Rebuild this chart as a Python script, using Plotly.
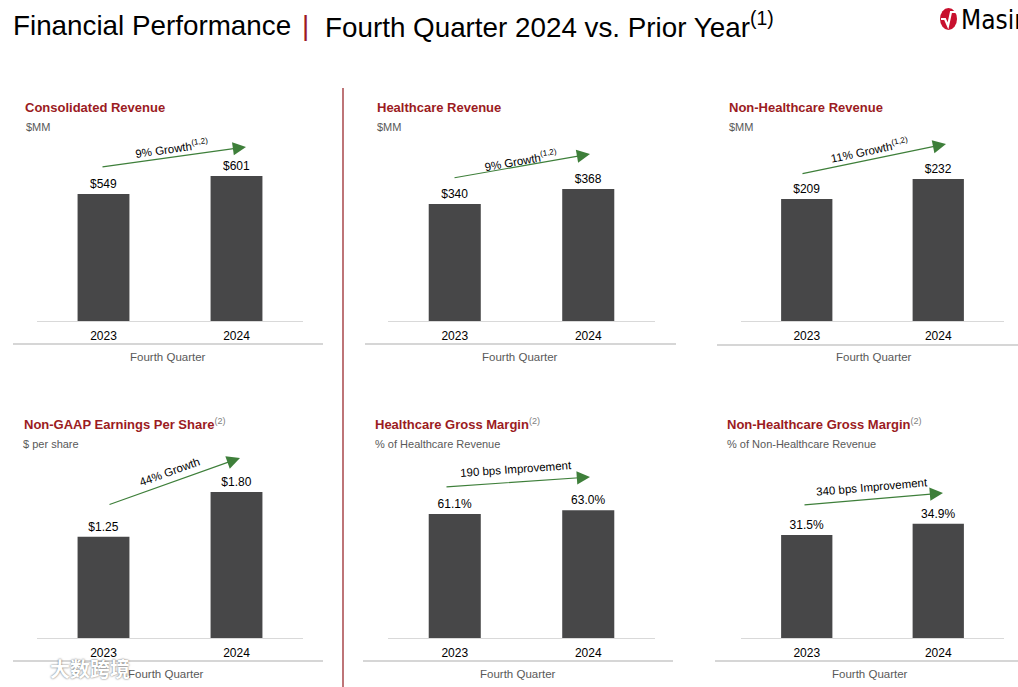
import plotly.graph_objects as go

# ---------------- data ----------------
categories = ["2023", "2024"]
consolidated_revenue = [549, 601]
healthcare_revenue = [340, 368]
non_healthcare_revenue = [209, 232]
non_gaap_eps = [1.25, 1.80]
healthcare_gross_margin = [61.1, 63.0]
non_healthcare_gross_margin = [31.5, 34.9]

panel_titles = [
    "Consolidated Revenue",
    "Healthcare Revenue",
    "Non-Healthcare Revenue",
    "Non-GAAP Earnings Per Share",
    "Healthcare Gross Margin",
    "Non-Healthcare Gross Margin",
]
panel_title_notes = ["", "", "", "(2)", "(2)", "(2)"]
panel_units = ["$MM", "$MM", "$MM", "$ per share",
               "% of Healthcare Revenue", "% of Non-Healthcare Revenue"]
growth_texts = ["9% Growth", "9% Growth", "11% Growth", "44% Growth",
                "190 bps Improvement", "340 bps Improvement"]
growth_notes = ["(1,2)", "(1,2)", "(1,2)", "", "", ""]
period_label = "Fourth Quarter"
main_title_left = "Financial Performance"
main_title_right = "Fourth Quarter 2024 vs. Prior Year"
main_title_note = "(1)"

series = [consolidated_revenue, healthcare_revenue, non_healthcare_revenue,
          non_gaap_eps, healthcare_gross_margin, non_healthcare_gross_margin]
formats = ["${:,.0f}", "${:,.0f}", "${:,.0f}", "${:.2f}", "{:.1f}%", "{:.1f}%"]

# ---------------- layout config ----------------
W, H = 1018, 687
FONT = "Liberation Sans, Arial, sans-serif"
RED = "#9B1B22"
BAR = "#474748"
GREEN = "#3E7F3A"
GRAY = "#595959"


def fx(p):
    return p / W


def fy(p):
    return 1 - p / H


col_px = [(37, 303), (388, 655), (741, 1004)]
row_px = [(140, 321), (460, 638)]
y_ranges = [[182.1, 705.1], [121.6, 459.5], [68.7, 276.8],
            [0, 2.195], [0, 87.7], [0, 54.4]]

title_pos = [(23, 107), (375, 107), (727, 107), (22, 424), (373, 424), (725, 424)]
unit_pos = [(24, 127), (375, 127), (727, 127), (21, 444), (373, 444), (725, 444)]
period_pos = [(168, 357), (520, 357), (874, 357), (166, 674), (518, 674), (870, 674)]
sep_lines = [(13, 323, 344), (365, 676, 344), (717, 1018, 345),
             (13, 323, 661), (363, 673, 661), (715, 1018, 661)]
arrows = [((101, 167), (246, 147)), ((453, 178), (590, 154)),
          ((801, 174), (946, 144)), ((108, 505), (240, 458)),
          ((445, 487), (590, 477)), ((803, 505), (943, 493))]
growth_text_pos = [(172, 148, -8), (521, 160, -10), (869, 150, -12),
                   (169, 472, -20), (516, 469, -4), (872, 487, -5)]

fig = go.Figure()
layout = dict(
    width=W, height=H,
    margin=dict(l=0, r=0, t=0, b=0),
    paper_bgcolor="white", plot_bgcolor="white",
    showlegend=False,
    font=dict(family=FONT, color="#000"),
)

annotations = []
shapes = []

for i, vals in enumerate(series):
    r, c = divmod(i, 3)
    n = "" if i == 0 else str(i + 1)
    fig.add_trace(go.Bar(
        x=categories, y=vals,
        xaxis="x" + n, yaxis="y" + n,
        marker=dict(color=BAR, line=dict(width=0)),
        width=0.39,
        text=[formats[i].format(v) for v in vals],
        textposition="outside",
        textfont=dict(family=FONT, size=12, color="#000"),
        hoverinfo="skip",
    ))
    x0, x1 = col_px[c]
    t, b = row_px[r]
    layout["xaxis" + n] = dict(
        domain=[fx(x0), fx(x1)], anchor="y" + n, type="category",
        range=[-0.5, 1.5], showline=True, linecolor="#D9D9D9", linewidth=1.3,
        ticks="", showgrid=False, zeroline=False, fixedrange=True,
        ticklabelstandoff=3,
        tickfont=dict(family=FONT, size=12, color="#000"),
    )
    layout["yaxis" + n] = dict(
        domain=[fy(b), fy(t)], anchor="x" + n, range=y_ranges[i],
        visible=False, fixedrange=True,
    )

    # panel title
    note = ""
    if panel_title_notes[i]:
        note = "<sup><span style='font-weight:normal;color:#7F7F7F'>%s</span></sup>" % panel_title_notes[i]
    tx, ty = title_pos[i]
    annotations.append(dict(
        xref="paper", yref="paper", x=fx(tx), y=fy(ty), xanchor="left", yanchor="middle",
        text="<b>%s</b>%s" % (panel_titles[i], note), showarrow=False,
        font=dict(family=FONT, size=13, color=RED),
    ))
    ux, uy = unit_pos[i]
    annotations.append(dict(
        xref="paper", yref="paper", x=fx(ux), y=fy(uy), xanchor="left", yanchor="middle",
        text=panel_units[i], showarrow=False,
        font=dict(family=FONT, size=11, color=GRAY),
    ))
    px_, py_ = period_pos[i]
    annotations.append(dict(
        xref="paper", yref="paper", x=fx(px_), y=fy(py_), xanchor="center", yanchor="middle",
        text=period_label, showarrow=False,
        font=dict(family=FONT, size=11.5, color=GRAY),
    ))
    lx0, lx1, ly = sep_lines[i]
    shapes.append(dict(type="line", xref="paper", yref="paper",
                       x0=fx(lx0), x1=fx(lx1), y0=fy(ly), y1=fy(ly),
                       line=dict(color="#C8C8C8", width=1.3)))
    (ax_, ay_), (hx, hy) = arrows[i]
    annotations.append(dict(
        xref="paper", yref="paper", x=fx(hx), y=fy(hy),
        axref="pixel", ayref="pixel", ax=ax_ - hx, ay=ay_ - hy,
        text="", showarrow=True, arrowhead=2, arrowsize=2.2, arrowwidth=1.2,
        arrowcolor=GREEN, standoff=0, startstandoff=0,
    ))
    gx, gy, ga = growth_text_pos[i]
    gnote = "<sup>%s</sup>" % growth_notes[i] if growth_notes[i] else ""
    annotations.append(dict(
        xref="paper", yref="paper", x=fx(gx), y=fy(gy), xanchor="center", yanchor="middle",
        text=growth_texts[i] + gnote, showarrow=False, textangle=ga,
        font=dict(family=FONT, size=11.5, color="#000"),
    ))

# main title
annotations += [
    dict(xref="paper", yref="paper", x=fx(11), y=fy(25), xanchor="left", yanchor="middle",
         text=main_title_left, showarrow=False, font=dict(family=FONT, size=27.8, color="#000")),
    dict(xref="paper", yref="paper", x=fx(305), y=fy(25), xanchor="center", yanchor="middle",
         text="|", showarrow=False, font=dict(family=FONT, size=27.8, color=RED)),
    dict(xref="paper", yref="paper", x=fx(323), y=fy(25), xanchor="left", yanchor="middle",
         text=main_title_right + "<sup>" + main_title_note + "</sup>", showarrow=False,
         font=dict(family=FONT, size=27.8, color="#000")),
    # logo text
    dict(xref="paper", yref="paper", x=fx(959), y=fy(20), xanchor="left", yanchor="middle",
         text="Masimo", showarrow=False,
         font=dict(family="Liberation Sans Narrow, DejaVu Sans Condensed, Liberation Sans", size=26, color="#000")),
    # watermark
    dict(xref="paper", yref="paper", x=fx(90), y=fy(668), xanchor="center", yanchor="middle",
         text="<b>大数跨境</b>", showarrow=False,
         font=dict(family="Noto Sans CJK SC", size=20, color="white", shadow="0px 0px 2px #555")),
]

# vertical divider
shapes.append(dict(type="line", xref="paper", yref="paper",
                   x0=fx(343), x1=fx(343), y0=fy(88), y1=fy(687),
                   line=dict(color="#9B2A2F", width=1.3)))
# logo mark
shapes.append(dict(type="circle", xref="paper", yref="paper",
                   x0=fx(940), x1=fx(957), y0=fy(30), y1=fy(8),
                   fillcolor="#C8102E", line=dict(width=0)))
shapes.append(dict(type="path", xref="paper", yref="paper",
                   path="M %f,%f L %f,%f L %f,%f L %f,%f L %f,%f" % (
                       fx(941), fy(19), fx(945), fy(19), fx(948), fy(26), fx(951), fy(12), fx(956), fy(12)),
                   line=dict(color="white", width=2.2)))

layout["annotations"] = annotations
layout["shapes"] = shapes
fig.update_layout(**layout)
fig.write_html("out.html", config={"displayModeBar": False},
               post_script="document.body.style.margin='0';")
